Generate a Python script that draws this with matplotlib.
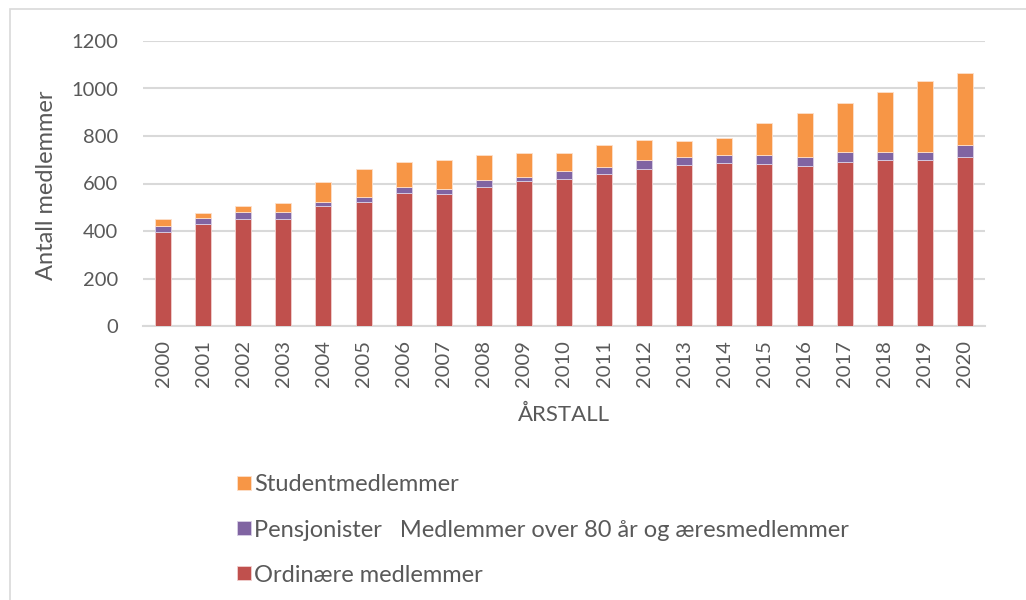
import numpy as np
import matplotlib.pyplot as plt
from matplotlib.patches import Rectangle

years = [str(y) for y in range(2000, 2021)]

# (stack tops converted to segment sizes below)
ordinaere = [395, 431, 451, 452, 507, 524, 562, 557, 587, 609, 619,
             642, 663, 677, 686, 681, 675, 692, 701, 701, 713]
pensjonister_top = [421, 455, 479, 480, 524, 543, 584, 577, 616, 629, 654,
                    671, 699, 713, 720, 719, 712, 733, 734, 734, 764]
total = [452, 474, 507, 518, 605, 661, 692, 700, 721, 730, 727,
         761, 782, 778, 793, 853, 898, 939, 985, 1033, 1065]

pensjonister = [p - o for p, o in zip(pensjonister_top, ordinaere)]
studenter = [t - p for t, p in zip(total, pensjonister_top)]

labels = ['Studentmedlemmer',
          'Pensjonister   Medlemmer over 80 år og æresmedlemmer',
          'Ordinære medlemmer']
colors = ['#F79646', '#8064A2', '#C0504D']
text_col = '#595959'

plt.rcParams['font.family'] = ['Lato', 'DejaVu Sans']

fig = plt.figure(figsize=(10.26, 6), dpi=100)
ax = fig.add_axes([143 / 1026, 1 - 326 / 600, (985 - 143) / 1026, (326 - 41) / 600])

x = np.arange(len(years))
w = 0.4
b1 = ax.bar(x, ordinaere, w, color=colors[2], edgecolor='#F2D0CF', linewidth=0.6, zorder=3)
b2 = ax.bar(x, pensjonister, w, bottom=ordinaere, color=colors[1],
            edgecolor='#D9CFE6', linewidth=0.6, zorder=3)
b3 = ax.bar(x, studenter, w, bottom=pensjonister_top, color=colors[0],
            edgecolor='#FDE0CB', linewidth=0.6, zorder=3)

ax.set_xlim(-0.5, len(years) - 0.5)
ax.set_ylim(0, 1200)
ax.set_yticks(range(0, 1201, 200))
ax.set_xticks(x)
ax.set_xticklabels(years, rotation=90)
ax.grid(axis='y', color='#D9D9D9', linewidth=1.5, zorder=0)
for s in ['top', 'right', 'left']:
    ax.spines[s].set_visible(False)
ax.spines['bottom'].set_color('#D9D9D9')
ax.spines['bottom'].set_linewidth(1.5)
ax.tick_params(length=0, labelsize=14.5, colors=text_col)
ax.tick_params(axis='y', pad=18)
ax.tick_params(axis='x', pad=10)

ax.set_ylabel('Antall medlemmer', fontsize=17, color=text_col)
ax.yaxis.set_label_coords(-86 / 842, 0.495)
ax.set_xlabel('ÅRSTALL', fontsize=16, color=text_col, labelpad=13)

fig.legend([b3, b2, b1], labels, loc='upper left',
           bbox_to_anchor=(228 / 1026, 1 - 465 / 600), borderaxespad=0,
           frameon=False, fontsize=17, labelcolor=text_col,
           handlelength=0.56, handleheight=0.56, handletextpad=0.15,
           labelspacing=1.02)

fig.patches.append(Rectangle((10 / 1026, -0.1), 1.1, 1 - 9 / 600 + 0.1,
                             transform=fig.transFigure, fill=False,
                             edgecolor='#D9D9D9', linewidth=1.2))

fig.savefig('out.png', dpi=100)
